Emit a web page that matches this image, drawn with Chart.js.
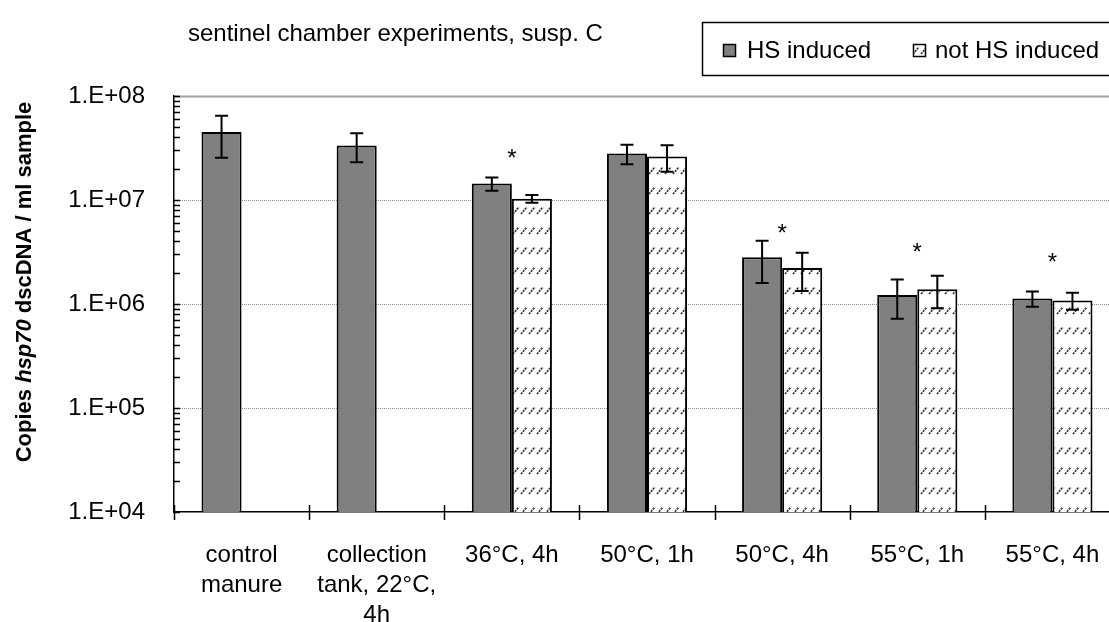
<!DOCTYPE html>
<html>
<head>
<meta charset="utf-8">
<script src="https://cdn.jsdelivr.net/npm/chart.js@4.4.1/dist/chart.umd.min.js"></script>
<style>
  html, body { margin: 0; padding: 0; background: #fff; overflow: hidden; }
  #wrap { width: 1125px; height: 622px; }
</style>
</head>
<body>
<div id="wrap"><canvas id="hspChart" width="1125" height="622"></canvas></div>
<script>
var categories = [['control', 'manure'], ['collection', 'tank, 22°C,', '4h'], '36°C, 4h', '50°C, 1h', '50°C, 4h', '55°C, 1h', '55°C, 4h'];
var hsInduced = [4.5e7, 3.35e7, 1.44e7, 2.8e7, 2.82e6, 1.22e6, 1.13e6];
var hsInducedErr = [1.95e7, 1.04e7, 0.21e7, 0.59e7, 1.23e6, 0.5e6, 0.19e6];
var notInduced = [null, null, 1.03e7, 2.62e7, 2.22e6, 1.39e6, 1.08e6];
var notInducedErr = [null, null, 0.09e7, 0.75e7, 0.89e6, 0.48e6, 0.2e6];
var starLevels = [null, null, 2.9e7, null, 5.5e6, 3.6e6, 2.9e6];
var yTicks = [1e4, 1e5, 1e6, 1e7, 1e8];

var FONT = '"Liberation Sans", Arial, sans-serif';
var canvas = document.getElementById('hspChart');
var ctx = canvas.getContext('2d');

// white fill with short slanted dashes
function makeHatch() {
  var c = document.createElement('canvas');
  c.width = 8; c.height = 20;
  var g = c.getContext('2d');
  g.fillStyle = '#fff';
  g.fillRect(0, 0, 8, 20);
  g.strokeStyle = '#333';
  g.lineWidth = 1.8;
  g.setLineDash([2, 1]);
  g.beginPath();
  g.moveTo(1, 14);
  g.lineTo(7, 7);
  g.stroke();
  return ctx.createPattern(c, 'repeat');
}
var hatch = makeHatch();

function drawErr(ctx, yScale, x, v, e) {
  var top = yScale.getPixelForValue(v + e);
  var bot = yScale.getPixelForValue(Math.max(v - e, 1e4));
  ctx.beginPath();
  ctx.moveTo(x, top); ctx.lineTo(x, bot);
  ctx.moveTo(x - 6.5, top); ctx.lineTo(x + 6.5, top);
  ctx.moveTo(x - 6.5, bot); ctx.lineTo(x + 6.5, bot);
  ctx.stroke();
}

var extras = {
  id: 'extras',
  beforeDatasetsDraw: function(chart) {
    var c = chart.ctx, y = chart.scales.y, a = chart.chartArea;
    c.save();
    yTicks.forEach(function(v) {
      if (v === 1e4) return;
      var py = Math.round(y.getPixelForValue(v)) + 0.5;
      c.beginPath();
      if (v === 1e8) {
        c.strokeStyle = '#a0a0a0'; c.lineWidth = 2; c.setLineDash([]);
      } else {
        c.strokeStyle = '#8a8a8a'; c.lineWidth = 1; c.setLineDash([1, 1]);
      }
      c.moveTo(a.left, py); c.lineTo(a.right, py);
      c.stroke();
    });
    c.restore();
  },
  afterDatasetsDraw: function(chart) {
    var c = chart.ctx, y = chart.scales.y, x = chart.scales.x, a = chart.chartArea;
    c.save();
    c.strokeStyle = '#000';
    c.lineWidth = 2;
    [[0, hsInduced, hsInducedErr], [1, notInduced, notInducedErr]].forEach(function(s) {
      var meta = chart.getDatasetMeta(s[0]);
      meta.data.forEach(function(bar, k) {
        if (s[1][k] == null) return;
        drawErr(c, y, bar.x, s[1][k], s[2][k]);
      });
    });

    // significance marks
    c.fillStyle = '#000';
    c.font = '24px ' + FONT;
    c.textAlign = 'center';
    c.textBaseline = 'alphabetic';
    starLevels.forEach(function(v, k) {
      if (v == null) return;
      c.fillText('*', x.getPixelForValue(k), y.getPixelForValue(v) + 14);
    });

    // y axis tick marks (major and minor, inside)
    c.lineWidth = 1.5;
    c.beginPath();
    for (var d = 1e4; d < 1e8; d *= 10) {
      for (var m = 1; m < 10; m++) {
        var py = Math.round(y.getPixelForValue(m * d)) + 0.5;
        c.moveTo(a.left, py); c.lineTo(a.left + 6, py);
      }
    }
    var pTop = Math.round(y.getPixelForValue(1e8)) + 0.5;
    c.moveTo(a.left, pTop); c.lineTo(a.left + 6, pTop);
    // x axis tick marks at category boundaries
    for (var k = 0; k < categories.length; k++) {
      var px = Math.round(x.getPixelForValue(k - 0.5)) + 0.5;
      c.moveTo(px, a.bottom - 7); c.lineTo(px, a.bottom + 8);
    }
    c.stroke();
    c.restore();
  },
  afterDraw: function(chart) {
    var c = chart.ctx;
    c.save();
    c.fillStyle = '#000';
    c.textBaseline = 'middle';
    c.textAlign = 'left';

    // title
    c.font = '24px ' + FONT;
    c.fillText('sentinel chamber experiments, susp. C', 188, 34);

    // legend box
    c.strokeStyle = '#000';
    c.lineWidth = 1.5;
    c.fillStyle = '#fff';
    c.fillRect(702.5, 22.5, 440, 53);
    c.strokeRect(702.5, 22.5, 440, 53);
    c.fillStyle = '#808080';
    c.fillRect(723.5, 44.5, 12, 12);
    c.strokeRect(723.5, 44.5, 12, 12);
    c.fillStyle = hatch;
    c.fillRect(913.5, 44.5, 12, 12);
    c.strokeRect(913.5, 44.5, 12, 12);
    c.fillStyle = '#000';
    c.fillText('HS induced', 747, 51);
    c.fillText('not HS induced', 935, 51);

    // y axis title, with italic gene name
    c.translate(25, 282);
    c.rotate(-Math.PI / 2);
    var parts = [['bold ', 'Copies '], ['italic bold ', 'hsp70'], ['bold ', ' dscDNA / ml sample']];
    var total = 0;
    parts.forEach(function(p) { c.font = p[0] + '22px ' + FONT; total += c.measureText(p[1]).width; });
    var px = -total / 2;
    parts.forEach(function(p) {
      c.font = p[0] + '22px ' + FONT;
      c.fillText(p[1], px, 0);
      px += c.measureText(p[1]).width;
    });
    c.restore();
  }
};

new Chart(ctx, {
  type: 'bar',
  data: {
    labels: categories,
    datasets: [{
      label: 'HS induced',
      data: hsInduced,
      backgroundColor: '#808080',
      borderColor: '#000',
      borderWidth: 2,
      barPercentage: 1,
      categoryPercentage: 0.593
    }, {
      label: 'not HS induced',
      data: notInduced,
      backgroundColor: hatch,
      borderColor: '#000',
      borderWidth: 2,
      barPercentage: 1,
      categoryPercentage: 0.593
    }]
  },
  options: {
    responsive: false,
    animation: false,
    layout: { padding: { top: 96, left: 0, right: 5, bottom: 0 } },
    scales: {
      x: {
        afterFit: function(s) { s.height = 110; },
        grid: { display: false },
        border: { display: true, color: '#000', width: 1.5 },
        ticks: {
          color: '#000',
          font: { size: 24, family: FONT, lineHeight: 1.25 },
          padding: 20,
          maxRotation: 0,
          autoSkip: false
        }
      },
      y: {
        type: 'logarithmic',
        min: 1e4,
        max: 1e8,
        afterBuildTicks: function(s) { s.ticks = yTicks.map(function(v) { return { value: v }; }); },
        afterFit: function(s) { s.width = 174; },
        grid: { display: false },
        border: { display: true, color: '#000', width: 1.5 },
        ticks: {
          color: '#000',
          font: { size: 24, family: FONT },
          padding: 21,
          autoSkip: false,
          callback: function(v) { return '1.E+' + ('0' + Math.round(Math.log10(v))).slice(-2); }
        }
      }
    },
    plugins: {
      legend: { display: false },
      tooltip: { enabled: false }
    }
  },
  plugins: [extras]
});
</script>
</body>
</html>
